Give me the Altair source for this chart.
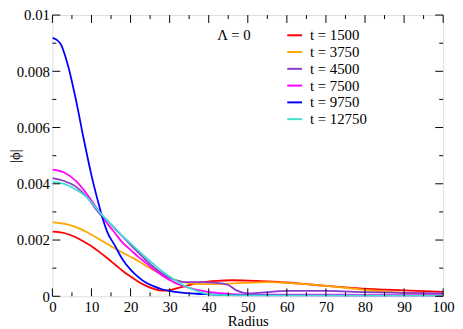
import altair as alt
import pandas as pd

# ---- data ----
series_names = ["t = 1500", "t = 3750", "t = 4500", "t = 7500", "t = 9750", "t = 12750"]
series_colors = ["#ff0000", "#ffa500", "#8a3ad0", "#ff00ff", "#0000ff", "#40e0d0"]

r_1500 = [0, 3, 6, 8, 10, 12, 14, 16, 18, 20, 22, 24, 26, 28, 30, 32, 35, 38, 42, 46, 50, 55, 60, 65, 70, 75, 80, 85, 90, 95, 100]
v_1500 = [0.0023, 0.00225, 0.0021, 0.00195, 0.00178, 0.00158, 0.00136, 0.00113, 0.0009, 0.0007, 0.00052, 0.00037, 0.00026, 0.0002,
          0.00022, 0.00029, 0.0004, 0.00049, 0.00055, 0.00057, 0.00056, 0.00053, 0.00049, 0.00043, 0.00037, 0.00032, 0.00027,
          0.00024, 0.00021, 0.00018, 0.00016]

r_3750 = [0, 3, 6, 9, 12, 15, 18, 21, 24, 27, 30, 33, 36, 40, 45, 50, 55, 60, 65, 70, 75, 80, 85, 90, 95, 100]
v_3750 = [0.00263, 0.00258, 0.00246, 0.00227, 0.00203, 0.00178, 0.00155, 0.00133, 0.00108, 0.00085, 0.00066, 0.00052,
          0.00045, 0.00043, 0.00045, 0.00048, 0.0005, 0.00048, 0.00043, 0.00037, 0.0003, 0.00023, 0.00017, 0.00012, 0.00009, 0.00007]

r_4500 = [0, 3, 6, 9, 12, 14, 16, 18, 20, 22, 24, 26, 28, 30, 32, 34, 38, 42, 45, 47, 49, 51, 55, 60, 70, 80, 90, 100]
v_4500 = [0.0042, 0.0041, 0.0039, 0.0035, 0.00295, 0.0027, 0.0024, 0.00212, 0.00183, 0.00155, 0.00128, 0.00103, 0.00082,
          0.00065, 0.00055, 0.0005, 0.0005, 0.00048, 0.0004, 0.00022, 0.00012, 0.0001, 0.00015, 0.00019, 0.00019, 0.00015,
          0.00012, 0.0001]

r_7500 = [0, 3, 6, 9, 12, 14, 16, 18, 20, 22, 24, 26, 28, 30, 32, 35, 38, 42, 46, 50, 60, 80, 100]
v_7500 = [0.0045, 0.0044, 0.0041, 0.0036, 0.003, 0.0026, 0.00225, 0.0019, 0.00165, 0.0014, 0.00118, 0.00095, 0.00075,
          0.00058, 0.00044, 0.0003, 0.0002, 0.00012, 0.00008, 0.00006, 0.00006, 0.00005, 0.00004]

r_9750 = [0, 2, 4, 6, 8, 10, 12, 13, 14, 16, 18, 20, 22, 24, 26, 28, 30, 33, 37, 40, 45, 50, 60, 80, 100]
v_9750 = [0.0092, 0.009, 0.0082, 0.007, 0.0056, 0.0043, 0.0032, 0.0027, 0.0023, 0.0018, 0.0013, 0.00095, 0.00068, 0.00048,
          0.00035, 0.00025, 0.00019, 0.00013, 0.00009, 0.00007, 0.00004, 0.00003, 0.00002, 0.00001, 0.00001]

r_12750 = [0, 3, 6, 9, 12, 14, 16, 18, 20, 22, 24, 26, 28, 30, 32, 34, 36, 38, 40, 44, 50, 100]
v_12750 = [0.00407, 0.004, 0.0038, 0.0035, 0.003, 0.0027, 0.00242, 0.00214, 0.00188, 0.00162, 0.00137, 0.00113, 0.0009,
           0.0007, 0.00052, 0.00036, 0.00024, 0.00014, 0.00008, 0.00004, 0.00003, 0.00002]

x_major = [0, 10, 20, 30, 40, 50, 60, 70, 80, 90, 100]
x_minor = [5, 15, 25, 35, 45, 55, 65, 75, 85, 95]
y_major = [0, 0.002, 0.004, 0.006, 0.008, 0.01]
y_minor = [0.001, 0.003, 0.005, 0.007, 0.009]

annotation = ["Λ = 0"]

# ---- build tables ----
rs = [r_1500, r_3750, r_4500, r_7500, r_9750, r_12750]
vs = [v_1500, v_3750, v_4500, v_7500, v_9750, v_12750]
rows = []
for name, rr, vv in zip(series_names, rs, vs):
    for a, b in zip(rr, vv):
        rows.append({"series": name, "r": a, "v": b})
df = pd.DataFrame(rows)

W, H = 396, 285
FONT = "Liberation Serif"
MAJ, MIN = 8, 4

xs = alt.Scale(domain=[0, 100], nice=False, zero=False)
ys = alt.Scale(domain=[0, 0.01], nice=False, zero=False)

X_AXIS = alt.Axis(values=x_major, ticks=False, grid=False, domain=False, format="d",
                  labelFont=FONT, labelFontSize=15, labelColor="black", labelPadding=3,
                  labelOverlap=False,
                  titleFont=FONT, titleFontSize=15, titleFontWeight="normal", titleColor="black",
                  titlePadding=0, labelFlush=False)
Y_AXIS = alt.Axis(values=y_major, ticks=False, grid=False, domain=False, format="~g",
                  labelFont=FONT, labelFontSize=15, labelColor="black", labelPadding=3,
                  labelOverlap=False,
                  titleFont=FONT, titleFontSize=15, titleFontWeight="normal", titleColor="black",
                  titleX=-38, titleBaseline="middle", titleAngle=270, labelFlush=False)
X_TITLE = "Radius"
Y_TITLE = "|ϕ|"


def xenc(field):
    return alt.X(field, scale=xs, axis=X_AXIS, title=X_TITLE)


def yenc(field):
    return alt.Y(field, scale=ys, axis=Y_AXIS, title=Y_TITLE)


lines = alt.Chart(df).mark_line(strokeWidth=1.8, interpolate="monotone", clip=True).encode(
    x=xenc("r:Q"),
    y=yenc("v:Q"),
    color=alt.Color("series:N", scale=alt.Scale(domain=series_names, range=series_colors),
                    legend=alt.Legend(title=None, orient="none", legendX=237, legendY=12, padding=0,
                                      symbolType="stroke", symbolSize=225, symbolStrokeWidth=2,
                                      labelFont=FONT, labelFontSize=15, labelColor="black",
                                      rowPadding=-1, labelOffset=7)),
)

dxmaj = pd.DataFrame({"x": x_major})
dxmin = pd.DataFrame({"x": x_minor})
dymaj = pd.DataFrame({"y": y_major})
dymin = pd.DataFrame({"y": y_minor})


def xticks(d, ln):
    b = alt.Chart(d).mark_rule(color="black", strokeWidth=1).encode(
        x=xenc("x:Q"), y=alt.value(H), y2=alt.value(H - ln))
    t = alt.Chart(d).mark_rule(color="black", strokeWidth=1).encode(
        x=xenc("x:Q"), y=alt.value(0), y2=alt.value(ln))
    return b + t


def yticks(d, ln):
    l = alt.Chart(d).mark_rule(color="black", strokeWidth=1).encode(
        y=yenc("y:Q"), x=alt.value(0), x2=alt.value(ln))
    r = alt.Chart(d).mark_rule(color="black", strokeWidth=1).encode(
        y=yenc("y:Q"), x=alt.value(W), x2=alt.value(W - ln))
    return l + r


label = alt.Chart(pd.DataFrame({"txt": annotation})).mark_text(
    font=FONT, fontSize=15, align="left", baseline="middle", color="black"
).encode(text="txt:N", x=alt.value(167), y=alt.value(20))

chart = alt.layer(
    lines,
    xticks(dxmaj, MAJ), xticks(dxmin, MIN), yticks(dymaj, MAJ), yticks(dymin, MIN),
    label
).properties(
    width=W, height=H,
    autosize=alt.AutoSizeParams(type="none"),
    padding={"left": 45, "top": 5, "right": 12, "bottom": 30},
).configure_view(stroke="black", strokeWidth=1.2).configure(background="white")

chart.save("out.html", embed_options={"renderer": "svg", "actions": False})
